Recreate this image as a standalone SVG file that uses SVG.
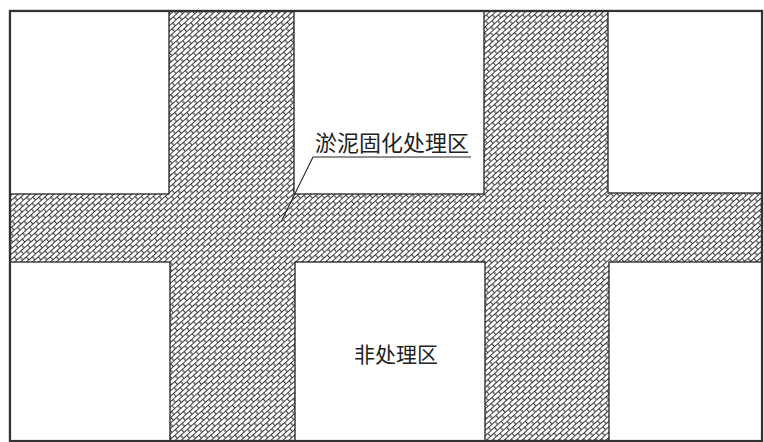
<svg xmlns="http://www.w3.org/2000/svg" width="764" height="442" viewBox="0 0 764 442">
  <defs>
    <pattern id="hatch" patternUnits="userSpaceOnUse" width="9" height="8" patternTransform="rotate(-42)">
      <rect width="9" height="8" fill="#fff"/>
      <path d="M0 0.5H9M0 4.5H9M0.5 0.5V4.5M5 4.5V8.5" fill="none" stroke="#3c3c3c" stroke-width="1.2"/>
    </pattern>
  </defs>
  <style>
    .block { fill: #fff; stroke: #222; stroke-width: 1.3; }
    .frame { fill: url(#hatch); stroke: #333; stroke-width: 2.2; }
    .label { font-family: "Noto Sans CJK SC", "Noto Sans", sans-serif; fill: #222; }
    .leader { fill: none; stroke: #222; stroke-width: 1.1; }
  </style>
  <rect width="764" height="442" fill="#fff"/>
  <g id="treatment-zone">
    <rect class="frame" x="10" y="11" width="752" height="430"/>
  </g>
  <g id="block-top-left"><rect class="block" x="10" y="11" width="159" height="183"/></g>
  <g id="block-top-middle"><rect class="block" x="294" y="11" width="190" height="183"/></g>
  <g id="block-top-right"><rect class="block" x="608" y="11" width="154" height="182"/></g>
  <g id="block-bottom-left"><rect class="block" x="10" y="262" width="160" height="179"/></g>
  <g id="block-bottom-middle">
    <rect class="block" x="295" y="262" width="190" height="179"/>
    <text class="label" x="396" y="362" font-size="21" text-anchor="middle">非处理区</text>
  </g>
  <g id="block-bottom-right"><rect class="block" x="609" y="262" width="153" height="179"/></g>
  <g id="connectors">
    <path class="leader" d="M471 157H313L281 222"/>
  </g>
  <g id="label-treatment">
    <text class="label" x="315" y="151" font-size="22">淤泥固化处理区</text>
  </g>
  <rect x="10" y="11" width="752" height="430" fill="none" stroke="#333" stroke-width="2.2"/>
</svg>
